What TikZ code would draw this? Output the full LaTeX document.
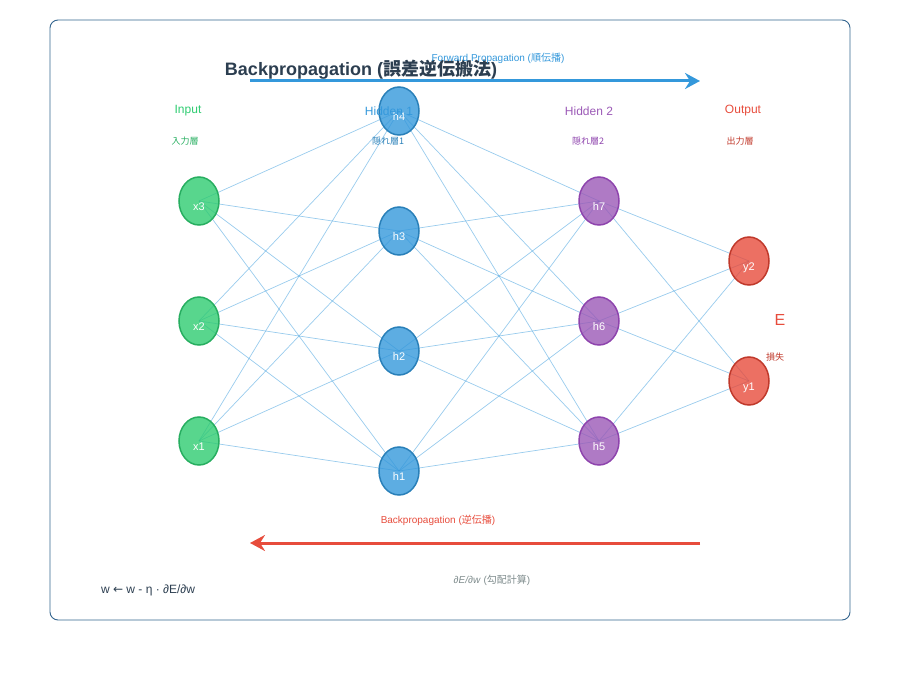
\documentclass[tikz,border=0pt]{standalone}
\usepackage{fontspec}
\setmainfont{Liberation Sans}
\newfontfamily\jp{Noto Sans CJK JP}
\newfontfamily\dejavu{DejaVu Sans}
\usepackage{tikz}
\usetikzlibrary{shapes.geometric, positioning, arrows.meta, backgrounds}

\definecolor{inGreen}{HTML}{2ECC71}
\definecolor{inGreenD}{HTML}{27AE60}
\definecolor{hidBlue}{HTML}{3498DB}
\definecolor{hidBlueD}{HTML}{2980B9}
\definecolor{hidPurple}{HTML}{9B59B6}
\definecolor{hidPurpleD}{HTML}{8E44AD}
\definecolor{outRed}{HTML}{E74C3C}
\definecolor{outRedD}{HTML}{C0392B}
\definecolor{titleNavy}{HTML}{2C3E50}
\definecolor{frameBlue}{HTML}{34658F}
\definecolor{noteGray}{HTML}{7F8C8D}

\begin{document}
\begin{tikzpicture}[
    x=1pt, y=-1pt,
    neuron/.style={draw, ellipse, line width=1.5pt, minimum width=40pt, minimum height=48pt, inner sep=0pt,
        fill opacity=0.8, text opacity=1, text=white, font=\fontsize{11}{12}\selectfont, text height=20pt, text depth=0pt},
    inputn/.style={neuron, fill=inGreen, draw=inGreenD},
    hid1n/.style={neuron, fill=hidBlue, draw=hidBlueD},
    hid2n/.style={neuron, fill=hidPurple, draw=hidPurpleD},
    outn/.style={neuron, fill=outRed, draw=outRedD},
    weight/.style={draw=hidBlue, line width=0.7pt, draw opacity=0.5},
    layername/.style={font=\fontsize{12}{14}\selectfont},
    layersub/.style={font=\jp\fontsize{9}{11}\selectfont},
    flow/.style={line width=3pt, -{Stealth[length=15pt, width=16pt, inset=5pt]}}
]
    \useasboundingbox (0,0) rectangle (900,700);
    % frame
    \draw[frameBlue, line width=0.9pt, rounded corners=8pt] (50,20) rectangle (850,620);

    % Title
    \node[font=\fontsize{18}{20}\selectfont\bfseries, text=titleNavy] (title) at (361,70)
        {Backpropagation ({\jp\bfseries 誤差逆伝搬法})};

    % Forward arrow
    \coordinate (fwdS) at (250,81);
    \coordinate (fwdE) at (700,81);
    \draw[flow, hidBlue] (fwdS) -- (fwdE);
    \node[text=hidBlue, font=\fontsize{10}{12}\selectfont] (fwdlab) at (498,58)
        {Forward Propagation ({\jp 順伝播})};

    % Neurons
    \node[inputn] (x3) at (199,201) {x3};
    \node[inputn] (x2) at (199,321) {x2};
    \node[inputn] (x1) at (199,441) {x1};

    \node[hid1n] (h4) at (399,111) {h4};
    \node[hid1n] (h3) at (399,231) {h3};
    \node[hid1n] (h2) at (399,351) {h2};
    \node[hid1n] (h1) at (399,471) {h1};

    \node[hid2n] (h7) at (599,201) {h7};
    \node[hid2n] (h6) at (599,321) {h6};
    \node[hid2n] (h5) at (599,441) {h5};

    \node[outn] (y2) at (749,261) {y2};
    \node[outn] (y1) at (749,381) {y1};

    % Weights
    \begin{scope}[on background layer]
    \foreach \a in {x1,x2,x3}
        \foreach \b in {h1,h2,h3,h4}
            \draw[weight] (\a.center) -- (\b.center);
    \foreach \a in {h1,h2,h3,h4}
        \foreach \b in {h5,h6,h7}
            \draw[weight] (\a.center) -- (\b.center);
    \foreach \a in {h5,h6,h7}
        \foreach \b in {y1,y2}
            \draw[weight] (\a.center) -- (\b.center);
    \end{scope}

    % Layer labels
    \node[layername, text=inGreen] (linp) at (188,111) {Input};
    \node[layersub, text=inGreenD] (linpj) at (185,141) {入力層};
    \node[layername, text=hidBlue] (lh1) at (389,111) {Hidden 1};
    \node[layersub, text=hidBlueD] (lh1j) at (388,141) {隠れ層1};
    \node[layername, text=hidPurple] (lh2) at (589,111) {Hidden 2};
    \node[layersub, text=hidPurpleD] (lh2j) at (588,141) {隠れ層2};
    \node[layername, text=outRed] (lout) at (743,111) {Output};
    \node[layersub, text=outRedD] (loutj) at (740,141) {出力層};

    % Loss
    \node[text=outRed, font=\fontsize{16}{18}\selectfont] (loss) at (780,320) {E};
    \node[layersub, text=outRedD] (lossj) at (775,357) {損失};

    % Backward arrow
    \coordinate (bwdS) at (700,543);
    \coordinate (bwdE) at (250,543);
    \draw[flow, outRed] (bwdS) -- (bwdE);
    \node[text=outRed, font=\fontsize{10}{12}\selectfont] (bwdlab) at (438,520)
        {Backpropagation ({\jp 逆伝播})};

    % Gradient notes
    \node[text=noteGray, font=\fontsize{10}{12}\selectfont] (grad) at (492,580)
        {\textit{∂E/∂w} ({\jp 勾配計算})};
    \node[text=titleNavy, font=\fontsize{12}{14}\selectfont] (rule) at (148,590)
        {w {\dejavu ←} w - η · ∂E/∂w};
\end{tikzpicture}
\end{document}
